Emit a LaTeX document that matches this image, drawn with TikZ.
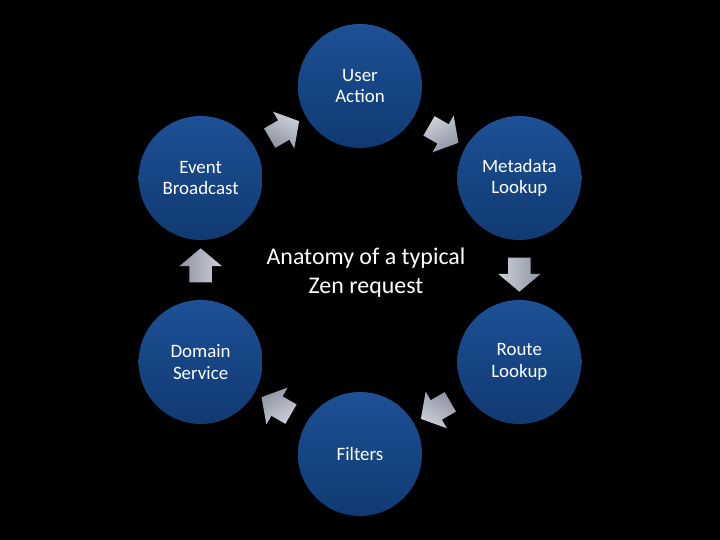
\documentclass[tikz,border=0pt]{standalone}
\usepackage{fontspec}
\setmainfont{Carlito}
\usetikzlibrary{calc, shapes.arrows}
\definecolor{stageblue}{HTML}{1D5096}
\definecolor{stagebluedark}{HTML}{103A72}
\definecolor{arrowlight}{HTML}{CDD0D8}
\definecolor{arrowdark}{HTML}{8E94A4}
\tikzset{
  stage/.style={
    circle, minimum size=124bp, inner sep=0pt,
    top color=stageblue, bottom color=stagebluedark,
    text=white, align=center, font=\fontsize{19}{22}\selectfont
  },
  cyclearrow/.style={
    single arrow, minimum height=34bp, inner xsep=0pt, inner ysep=11bp,
    single arrow head extend=10bp, single arrow tip angle=100,
    top color=arrowlight, bottom color=arrowdark
  },
  caption/.style={
    text=white, align=center, font=\fontsize{24}{29}\selectfont
  },
}

\begin{document}
\begin{tikzpicture}[x=1bp, y=1bp]
  \fill[black] (0,0) rectangle (720,540);
  \coordinate (hub) at (360,270);

  \node[stage] (user)    at ($(hub)+(90:184bp)$)  {User\\Action};
  \node[stage] (meta)    at ($(hub)+(30:184bp)$)  {Metadata\\Lookup};
  \node[stage] (route)   at ($(hub)+(-30:184bp)$) {Route\\Lookup};
  \node[stage] (filters) at ($(hub)+(-90:184bp)$) {Filters};
  \node[stage] (domain)  at ($(hub)+(210:184bp)$) {Domain\\Service};
  \node[stage] (event)   at ($(hub)+(150:184bp)$) {Event\\Broadcast};

  \node[caption] (title) at (366,267) {Anatomy of a typical\\Zen request};

  % block arrows half way between the stages
  \foreach \from/\to/\dir in {user/meta/-30, meta/route/-90, route/filters/-150,
                              filters/domain/150, domain/event/90, event/user/30}
    \node[cyclearrow, rotate=\dir, shading angle=0-\dir] (go-\from) at ($(\from)!0.5!(\to)$) {};
\end{tikzpicture}
\end{document}
